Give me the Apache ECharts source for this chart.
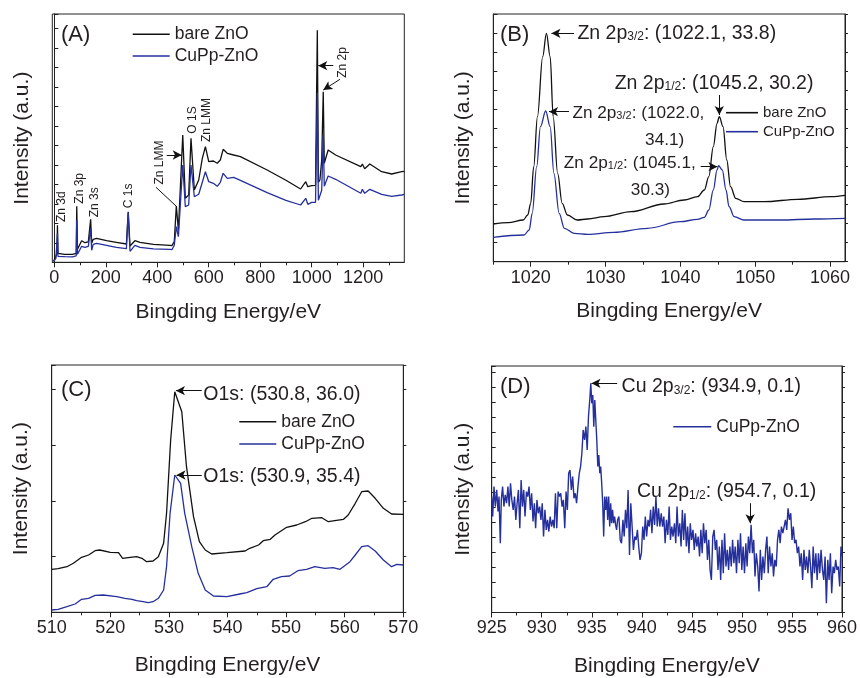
<!DOCTYPE html>
<html><head><meta charset="utf-8">
<script src="https://cdn.jsdelivr.net/npm/echarts@6/dist/echarts.min.js"></script>
<style>html,body{margin:0;padding:0;background:#fff}#c{width:860px;height:678px}</style>
</head><body><div id="c"></div>
<script>
// ---------- Panel A : survey spectrum ----------
const surveyE = [-3, 6, 10, 12, 14, 20, 40, 70, 85, 87, 90, 97, 106, 119, 132, 141, 145, 151, 164, 203, 241, 280, 287, 294, 313, 333, 385, 449, 457, 466, 474, 482, 499, 509, 522, 531, 544, 561, 575, 587, 600, 618, 633, 645, 656, 672, 697, 723, 827, 900, 957, 964, 977, 985, 1000, 1015, 1019, 1022, 1026, 1032, 1039, 1045, 1049, 1064, 1070, 1093, 1191, 1197, 1206, 1226, 1272, 1311, 1350, 1360];
const surveyBare = [1, 6, 9, 37, 9, 8.5, 8, 8, 9, 56, 13, 14, 21.6, 19.6, 20.5, 43, 19, 23, 24, 21.6, 20, 18.3, 50.6, 16.3, 21.6, 20, 18, 17, 16.6, 20.6, 56.3, 32, 127.3, 64, 67.3, 124, 72.3, 82.3, 104, 115.6, 100.6, 101.3, 99, 102.3, 113, 109, 107.3, 105.6, 92.3, 82, 73.3, 74, 80.6, 75.6, 76.6, 77, 75, 232, 80, 82.3, 102, 170.6, 99, 112.3, 112, 107.3, 95.6, 98.3, 93.6, 98.3, 90.6, 88.3, 90.6, 91];
const surveyCu = [1, 4, 6, 29, 6, 5.6, 5.6, 5.5, 6.5, 42.3, 8, 10, 16, 15, 16, 34, 12, 18, 19, 17, 15, 13.6, 49.6, 11, 17, 15, 13.5, 13, 12.6, 17, 35.6, 25.6, 97.3, 55.6, 57.3, 97.3, 65.6, 68, 80, 90.6, 80.6, 79, 76, 80, 89, 84, 85, 82, 69.6, 62, 57.3, 57, 64, 58, 60, 60, 58, 169.6, 62, 63, 72, 127.3, 76, 86.3, 87, 83, 69, 73, 69, 73, 68, 66, 67.3, 68];
const surveyTicks = [0, 200, 400, 600, 800, 1000, 1200];
const surveyMinor = [100, 300, 500, 700, 900, 1100, 1300];

// ---------- Panel B : Zn 2p ----------
const znE_bare = [1015, 1017, 1019, 1019.6, 1020, 1020.4, 1020.9, 1021.6, 1022.1, 1022.6, 1023.0, 1023.6, 1024.2, 1024.9, 1026.2, 1027.6, 1029.8, 1033.4, 1037.8, 1040.5, 1042.3, 1043.2, 1043.8, 1044.4, 1044.9, 1045.2, 1045.7, 1046.2, 1046.7, 1047.4, 1048.5, 1051.2, 1055.7, 1060.2, 1062];
const znI_bare = [37.7, 39.0, 41.7, 46.7, 58.4, 95.0, 145.0, 205.0, 228.4, 205.0, 145.0, 88.4, 58.4, 46.7, 41.7, 42.7, 45.0, 50.0, 57.7, 61.7, 65.0, 71.7, 85.0, 115.0, 138.4, 145.0, 135.0, 101.7, 75.0, 63.4, 60.0, 60.0, 62.4, 65.0, 66.4];
const znE_cu = [1015, 1019.1, 1019.8, 1020.2, 1020.8, 1021.3, 1022.0, 1022.6, 1023.1, 1023.8, 1024.5, 1025.8, 1027.6, 1031.1, 1035.6, 1040.0, 1042.3, 1043.2, 1043.8, 1044.4, 1044.9, 1045.1, 1045.6, 1046.1, 1046.5, 1047.2, 1048.5, 1053.4, 1057.9, 1062.1];
const znI_cu = [24.4, 26.7, 31.7, 48.4, 95.0, 135.0, 150.7, 135.0, 88.4, 48.4, 33.4, 28.4, 27.4, 29.4, 33.4, 40.0, 42.4, 44.4, 51.7, 71.7, 91.7, 96.0, 91.7, 71.7, 55.0, 45.0, 41.7, 41.7, 42.7, 43.4];
const znTicks = [1020, 1030, 1040, 1050, 1060];
const znMinor = [1015, 1025, 1035, 1045, 1055];

// ---------- Panel C : O 1s ----------
const oE_bare = [510, 511.1, 512.6, 513.7, 515.1, 516.3, 517.4, 518.2, 520.0, 521.4, 522.1, 523.4, 524.5, 525.4, 526.2, 527.3, 528.2, 529.1, 529.6, 530.3, 531.0, 532.2, 533.0, 534.2, 535.2, 536.2, 537.3, 539.9, 543.0, 543.8, 545.3, 546.1, 547.3, 548.1, 550.1, 551.8, 553.3, 554.4, 556.1, 557.2, 558.6, 559.8, 560.6, 561.8, 562.9, 564.0, 565.2, 566.6, 568.0, 570.0];
const oI_bare = [43.0, 43.6, 45.6, 49.0, 55.0, 57.3, 61.6, 62.3, 60.0, 59.6, 54.0, 55.0, 55.6, 54.0, 50.6, 51.3, 55.6, 69.0, 99.0, 172.3, 220.6, 200.6, 145.6, 95.6, 70.6, 62.3, 58.3, 59.6, 61.3, 64.0, 67.3, 71.6, 73.0, 77.3, 85.0, 87.3, 90.6, 94.0, 94.6, 90.6, 92.0, 93.0, 97.3, 109.0, 120.6, 121.3, 114.0, 104.0, 98.3, 98.0];
const oE_cu = [510, 511.1, 512.6, 514.0, 515.1, 516.3, 517.4, 518.8, 521.1, 522.5, 523.7, 524.5, 525.6, 526.5, 527.3, 528.2, 529.1, 529.6, 530.2, 531.0, 532.0, 532.7, 533.9, 535.0, 536.2, 537.6, 539.9, 542.1, 543.3, 545.0, 546.7, 547.8, 549.2, 550.6, 552.0, 553.5, 554.9, 556.6, 558.0, 559.2, 560.9, 561.8, 562.9, 564.0, 565.2, 566.6, 568.0, 568.9, 570.0];
const oI_cu = [2.3, 3.0, 5.6, 8.3, 13.0, 14.0, 17.0, 17.3, 15.6, 14.0, 13.0, 11.6, 10.6, 9.6, 10.6, 14.0, 22.3, 45.6, 99.0, 137.3, 129.0, 99.0, 65.6, 39.0, 22.3, 16.3, 15.6, 18.3, 19.6, 23.6, 25.6, 33.0, 35.6, 36.3, 41.6, 43.0, 45.6, 44.0, 44.6, 43.0, 50.6, 57.3, 65.6, 66.6, 61.3, 52.3, 45.6, 48.0, 47.3];

// ---------- Panel D : Cu 2p ----------
const cuE = [
925.00, 925.10, 925.23, 925.36, 925.50, 925.63, 925.73, 925.86, 925.96, 926.09,
926.22, 926.35, 926.49, 926.62, 926.75, 926.88, 927.01, 927.15, 927.28, 927.41,
927.54, 927.67, 927.81, 927.94, 928.07, 928.20, 928.33, 928.47, 928.60, 928.73,
928.86, 928.99, 929.13, 929.26, 929.39, 929.52, 929.65, 929.79, 929.92, 930.05,
930.18, 930.32, 930.45, 930.58, 930.71, 930.84, 930.98, 931.11, 931.24, 931.37,
931.50, 931.64, 931.77, 931.90, 932.03, 932.16, 932.30, 932.43, 932.56, 932.69,
932.82, 932.96, 933.09, 933.22, 933.35, 933.48, 933.62, 933.75, 933.88, 934.01,
934.14, 934.28, 934.41, 934.54, 934.67, 934.81, 934.90, 935.00, 935.10, 935.20,
935.30, 935.40, 935.50, 935.60, 935.70, 935.80, 935.89, 935.99, 936.09, 936.19,
936.29, 936.39, 936.49, 936.59, 936.69, 936.79, 936.89, 936.98, 937.08, 937.18,
937.28, 937.38, 937.48, 937.58, 937.71, 937.84, 937.97, 938.11, 938.24, 938.37,
938.50, 938.63, 938.77, 938.90, 939.03, 939.16, 939.30, 939.43, 939.56, 939.69,
939.82, 939.96, 940.09, 940.22, 940.35, 940.48, 940.62, 940.75, 940.88, 941.01,
941.14, 941.28, 941.41, 941.54, 941.67, 941.80, 941.94, 942.07, 942.20, 942.33,
942.46, 942.60, 942.73, 942.86, 942.99, 943.12, 943.26, 943.39, 943.52, 943.65,
943.79, 943.92, 944.05, 944.18, 944.31, 944.45, 944.58, 944.71, 944.84, 944.97,
945.11, 945.24, 945.37, 945.50, 945.63, 945.77, 945.90, 946.03, 946.16, 946.29,
946.43, 946.56, 946.69, 946.82, 946.95, 947.09, 947.22, 947.35, 947.48, 947.61,
947.75, 947.88, 948.01, 948.14, 948.27, 948.41, 948.54, 948.67, 948.80, 948.94,
949.07, 949.20, 949.33, 949.46, 949.60, 949.73, 949.86, 949.99, 950.12, 950.26,
950.39, 950.52, 950.65, 950.78, 950.92, 951.05, 951.18, 951.31, 951.44, 951.58,
951.71, 951.84, 951.97, 952.10, 952.24, 952.37, 952.50, 952.63, 952.76, 952.90,
953.03, 953.16, 953.29, 953.43, 953.56, 953.69, 953.82, 953.95, 954.09, 954.22,
954.35, 954.48, 954.61, 954.75, 954.88, 955.01, 955.14, 955.27, 955.41, 955.54,
955.67, 955.80, 955.93, 956.07, 956.20, 956.33, 956.46, 956.59, 956.73, 956.86,
956.99, 957.12, 957.25, 957.39, 957.52, 957.65, 957.78, 957.91, 958.05, 958.18,
958.31, 958.44, 958.58, 958.71, 958.84, 958.97, 959.11, 959.24, 959.37, 959.50,
959.63, 959.77, 959.90, 960.00];
const cuI = [
348, 288, 378, 318, 368, 303, 348, 208, 338, 378,
318, 353, 328, 378, 318, 388, 338, 308, 348, 278,
328, 368, 253, 398, 318, 368, 288, 363, 348, 378,
308, 358, 273, 328, 253, 338, 298, 318, 278, 328,
228, 308, 248, 278, 243, 288, 258, 278, 253, 358,
253, 363, 348, 358, 318, 338, 253, 363, 308, 418,
428, 368, 408, 343, 358, 328, 378, 418, 438, 478,
548, 518, 558, 488, 588, 643, 688, 628, 653, 558,
638, 578, 518, 438, 473, 418, 438, 388, 328, 228,
348, 308, 348, 278, 348, 258, 328, 268, 308, 268,
288, 263, 248, 278, 288, 218, 208, 278, 228, 308,
253, 368, 173, 328, 258, 188, 228, 218, 248, 198,
158, 178, 258, 218, 288, 228, 278, 258, 308, 238,
318, 263, 348, 258, 313, 258, 298, 258, 288, 208,
278, 233, 318, 218, 258, 228, 268, 208, 318, 228,
268, 198, 308, 218, 298, 198, 258, 178, 268, 218,
248, 188, 238, 198, 228, 168, 248, 178, 268, 208,
248, 158, 218, 128, 98, 228, 248, 188, 218, 128,
198, 98, 218, 118, 238, 138, 188, 128, 198, 138,
218, 148, 198, 118, 218, 148, 238, 128, 198, 118,
208, 138, 228, 178, 263, 178, 218, 108, 178, 138,
63, 188, 98, 168, 118, 188, 228, 118, 198, 138,
178, 108, 158, 138, 218, 248, 208, 258, 238, 258,
278, 248, 313, 278, 298, 218, 258, 208, 218, 178,
198, 138, 178, 98, 188, 128, 168, 118, 188, 138,
73, 198, 118, 178, 98, 178, 118, 188, 128, 98,
168, 28, 158, 98, 178, 58, 138, 118, 158, 128,
138, 78, 198, 168];

const seriesNames = ['bare ZnO', 'CuPp-ZnO'];
const panelLetters = ['(A)', '(B)', '(C)', '(D)'];

// ---------- styling ----------
const FONT = '"Liberation Sans", Arial, Helvetica, sans-serif';
const TXT = '#231f20';
const AX = '#222222';
const BLACK = '#111111';
const BLUE = '#25309c';

function pairs(xs, ys) { return xs.map((x, i) => [x, ys[i]]); }

const gridDefs = [
  { left: 52.3, top: 14, width: 352, height: 248.3 },
  { left: 493.3, top: 14, width: 351.7, height: 247.7 },
  { left: 51.7, top: 365, width: 351.6, height: 247.3 },
  { left: 491.7, top: 366, width: 353.3, height: 246.7 }
];
const grids = gridDefs.map(g => Object.assign({ show: true, borderColor: AX, borderWidth: 1, containLabel: false }, g));

function plainNum(v) { return String(v); }

function xMain(gi, min, max, gap, ticks, interval) {
  const ax = {
    type: 'value', gridIndex: gi, min: min, max: max, position: 'bottom',
    name: 'Bingding Energy/eV', nameLocation: 'middle', nameGap: gap,
    nameTextStyle: { fontSize: 21, color: TXT, fontFamily: FONT },
    axisLine: { show: true, lineStyle: { color: AX, width: 1 } },
    axisTick: { show: true, inside: false, length: 5, lineStyle: { color: AX, width: 1 } },
    axisLabel: { fontSize: 18, color: TXT, margin: 7, fontFamily: FONT, formatter: plainNum },
    splitLine: { show: false }
  };
  if (ticks) { ax.axisLabel.customValues = ticks; ax.axisTick.customValues = ticks; }
  if (interval) {
    ax.interval = interval;
    ax.minorTick = { show: true, splitNumber: 2, length: 3, lineStyle: { color: AX, width: 1 } };
  }
  return ax;
}
function xMinor(gi, min, max, ticks) {
  return {
    type: 'value', gridIndex: gi, min: min, max: max, position: 'bottom',
    axisLine: { show: false }, axisLabel: { show: false },
    axisTick: { show: true, inside: false, length: 3, customValues: ticks, lineStyle: { color: AX, width: 1 } },
    splitLine: { show: false }
  };
}
function yLeft(gi, max, interval, gap) {
  return {
    type: 'value', gridIndex: gi, min: 0, max: max, interval: interval, position: 'left',
    name: 'Intensity (a.u.)', nameLocation: 'middle', nameGap: gap,
    nameTextStyle: { fontSize: 21, color: TXT, fontFamily: FONT },
    axisLine: { show: true, lineStyle: { color: AX, width: 1 } },
    axisTick: { show: true, inside: true, length: 4, lineStyle: { color: AX } },
    axisLabel: { show: false }, splitLine: { show: false }
  };
}
function yRight(gi, max, interval) {
  return {
    type: 'value', gridIndex: gi, min: 0, max: max, interval: interval, position: 'right',
    axisLine: { show: true, lineStyle: { color: AX, width: 1 } },
    axisTick: { show: true, inside: false, length: 3, lineStyle: { color: AX } },
    axisLabel: { show: false }, splitLine: { show: false }
  };
}

function makeRich(fs, sfs) {
  return {
    a: { fontSize: fs, lineHeight: fs, color: TXT, fontFamily: FONT },
    s: { fontSize: sfs, lineHeight: sfs - 2, verticalAlign: 'bottom', color: TXT, fontFamily: FONT }
  };
}
const richBig = makeRich(19.5, 12);
const richSmall = makeRich(17.2, 11);
function txt(coord, text, pos, rich) {
  return {
    coord: coord, value: 0,
    label: { show: true, formatter: text, position: pos, distance: 0, color: TXT, fontFamily: FONT, rich: rich || richBig }
  };
}
function rotTxt(coord, text) {
  return { coord: coord, value: 0, label: { show: true, formatter: text, position: 'inside', rotate: 90, color: TXT, fontFamily: FONT, fontSize: 12 } };
}
function arrow(a, b) { return [{ coord: a, symbol: 'none' }, { coord: b, symbol: 'arrow', symbolSize: [7, 9] }]; }
function plain(a, b) { return [{ coord: a, symbol: 'none' }, { coord: b, symbol: 'none' }]; }
function markP(data) {
  return { symbol: 'circle', symbolSize: 0, silent: true, animation: false, itemStyle: { color: 'transparent' }, data: data };
}
function markL(data) {
  return { silent: true, animation: false, symbol: ['none', 'arrow'], symbolSize: 8,
    itemStyle: { color: BLACK }, lineStyle: { color: BLACK, width: 1, type: 'solid' }, label: { show: false },
    emphasis: { disabled: true }, data: data };
}
function line(name, color, xi, yi, data, width, smooth) {
  return {
    type: 'line', name: name, xAxisIndex: xi, yAxisIndex: yi, data: data,
    showSymbol: false, symbol: 'none', color: color, smooth: smooth || false, smoothMonotone: 'x',
    itemStyle: { color: color }, lineStyle: { color: color, width: width }, clip: true,
    emphasis: { disabled: true }
  };
}

const sA_bare = line(seriesNames[0], BLACK, 0, 0, pairs(surveyE, surveyBare), 1.3);
const sA_cu = line(seriesNames[1], BLUE, 0, 0, pairs(surveyE, surveyCu), 1.3);
sA_cu.markPoint = markP([
  rotTxt([29.8, 55.6], 'Zn 3d'), rotTxt([98, 74], 'Zn 3p'), rotTxt([155, 60], 'Zn 3s'),
  rotTxt([287.5, 66.5], 'C 1s'), rotTxt([408.7, 99.8], 'Zn LMM'), rotTxt([536, 142.3], 'O 1S'),
  rotTxt([593, 142.3], 'Zn LMM'), rotTxt([1119.7, 199.8], 'Zn 2p')
]);
sA_cu.markLine = markL([
  plain([395, 75], [473, 56.3]), arrow([436.7, 107.3], [495, 107.3]),
  arrow([1084, 196.6], [1025.6, 196.6]), arrow([1110, 183], [1045, 172.3])
]);

const sB_bare = line(seriesNames[0], BLACK, 2, 2, pairs(znE_bare, znI_bare), 1.3, 0.35);
const sB_cu = line(seriesNames[1], BLUE, 2, 2, pairs(znE_cu, znI_cu), 1.3, 0.35);
sB_cu.markPoint = markP([
  txt([1026.24, 228.4], '{a|Zn 2p}{s|3/2}{a|: (1022.1, 33.8)}', 'right'),
  txt([1044.5, 178.4], '{a|Zn 2p}{s|1/2}{a|: (1045.2, 30.2)}', 'inside'),
  txt([1025.57, 148.4], '{a|Zn 2p}{s|3/2}{a|: (1022.0,}', 'right', richSmall),
  txt([1037.9, 121.7], '{a|34.1)}', 'inside', richSmall),
  txt([1042.05, 98.4], '{a|Zn 2p}{s|1/2}{a|: (1045.1,}', 'left', richSmall),
  txt([1036.0, 71.7], '{a|30.3)}', 'inside', richSmall)
]);
sB_cu.markLine = markL([
  arrow([1025.79, 228.4], [1022.77, 228.4]), arrow([1045.2, 166.7], [1045.2, 146.7]),
  arrow([1025.12, 150], [1022.45, 150]), arrow([1042.72, 95], [1044.95, 95])
]);

const sC_bare = line(seriesNames[0], BLACK, 3, 4, pairs(oE_bare, oI_bare), 1.3);
const sC_cu = line(seriesNames[1], BLUE, 3, 4, pairs(oE_cu, oI_cu), 1.3);
sC_cu.markPoint = markP([
  txt([535.87, 217.3], '{a|O1s: (530.8, 36.0)}', 'right'),
  txt([535.87, 135.6], '{a|O1s: (530.9, 35.4)}', 'right')
]);
sC_cu.markLine = markL([
  arrow([535.6, 221.6], [531.2, 221.6]), arrow([535.6, 137.3], [531.3, 137.3])
]);

const sD_cu = line(seriesNames[1], BLUE, 4, 6, pairs(cuE, cuI), 1.4);
sD_cu.markPoint = markP([
  txt([937.98, 678], '{a|Cu 2p}{s|3/2}{a|: (934.9, 0.1)}', 'right'),
  txt([939.52, 363], '{a|Cu 2p}{s|1/2}{a|: (954.7, 0.1)}', 'right')
]);
sD_cu.markLine = markL([
  arrow([937.54, 688], [934.97, 688]), arrow([950.82, 328], [950.82, 268])
]);

function legend(left, top, fs, lh, gap, w, names) {
  return {
    left: left, top: top, orient: 'vertical', icon: 'rect', itemWidth: w, itemHeight: 1.6,
    itemGap: gap, padding: 0, selectedMode: false,
    textStyle: { fontSize: fs, lineHeight: lh, color: TXT, fontFamily: FONT },
    data: names
  };
}

const titles = [
  { left: 61, top: 24 }, { left: 500, top: 24 }, { left: 61, top: 379 }, { left: 500, top: 376 }
].map((p, i) => ({ text: panelLetters[i], left: p.left, top: p.top, padding: 0,
  textStyle: { fontSize: 22, fontWeight: 'normal', color: TXT, fontFamily: FONT } }));

const option = {
  animation: false,
  backgroundColor: '#ffffff',
  textStyle: { fontFamily: FONT },
  title: titles,
  grid: grids,
  legend: [
    legend(132.7, 25.3, 17.5, 18, 3.7, 37, seriesNames),
    legend(726, 105.2, 15, 15, 4, 32, seriesNames),
    legend(239.3, 412.7, 17.5, 18, 4.3, 37, seriesNames),
    legend(673.3, 417.7, 17.5, 18, 4, 38, [seriesNames[1]])
  ],
  xAxis: [
    xMain(0, -8, 1360, 39, surveyTicks),       // 0
    xMinor(0, -8, 1360, surveyMinor),          // 1
    xMain(1, 1015, 1062, 39.5, znTicks),       // 2
    xMain(2, 510, 570, 42, null, 10),          // 3
    xMain(3, 925, 960, 43.5, null, 5),         // 4
    xMinor(1, 1015, 1062, znMinor)             // 5
  ],
  yAxis: [
    yLeft(0, 248.3, 19.5, 20), yRight(0, 248.3, 19.5),
    yLeft(1, 247.7, 19, 20), yRight(1, 247.7, 19),
    yLeft(2, 247.3, 55.7, 19.5), yRight(2, 247.3, 55.7),
    yLeft(3, 740, 45, 18), yRight(3, 740, 45)
  ],
  series: [sA_bare, sA_cu, sB_bare, sB_cu, sC_bare, sC_cu, sD_cu]
};

const chart = echarts.init(document.getElementById('c'), null, { renderer: 'canvas', width: 860, height: 678 });
chart.setOption(option);
</script></body></html>
